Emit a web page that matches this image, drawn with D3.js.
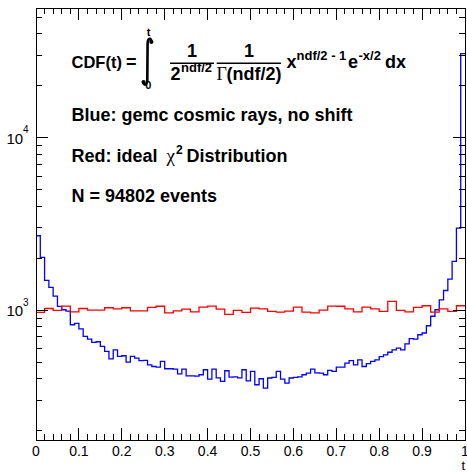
<!DOCTYPE html>
<html>
<head>
<meta charset="utf-8">
<title>CDF(t) - gemc cosmic rays vs ideal chi2</title>
<script src="https://d3js.org/d3.v7.min.js"></script>
<style>
  body { margin: 0; background: #fff; }
  svg text { font-family: "Liberation Sans", Arial, Helvetica, sans-serif; fill: #000; }
  .bold { font-weight: bold; }
  .greek { font-family: "Liberation Serif", "DejaVu Serif", serif; font-weight: normal; }
</style>
</head>
<body>
<div id="vis"></div>
<script>
const width = 467;
const height = 473;

// Blue: gemc cosmic rays, 100 bins on [0, 1]
const blueCounts = [
  2703, 2024, 1489, 1356, 1209, 1052, 1007, 989, 824, 839,
  781, 705, 681, 651, 657, 617, 577, 523, 590, 540,
  545, 501, 540, 528, 510, 512, 483, 472, 468, 505,
  458, 458, 456, 428, 456, 417, 417, 415, 423, 452,
  399, 456, 406, 387, 446, 410, 411, 406, 452, 390,
  442, 370, 401, 354, 405, 408, 442, 399, 378, 405,
  408, 411, 423, 432, 456, 434, 432, 423, 448, 442,
  468, 468, 494, 510, 483, 516, 472, 490, 505, 516,
  538, 552, 571, 590, 604, 590, 639, 684, 681, 721,
  738, 813, 923, 1007, 1150, 1302, 1517, 1918, 2996, 30700
];

// Red: ideal chi2 distribution, 50 bins on [0, 1]
const redCounts = [
  971, 1024, 999, 1058, 980, 1024, 1003, 1003, 1034, 1020,
  1034, 993, 993, 1038, 1055, 967, 991, 1016, 980, 1044,
  1058, 1016, 946, 999, 971, 1030, 1020, 984, 976, 989,
  1044, 976, 967, 1003, 1058, 1055, 1020, 980, 1044, 1020,
  984, 1125, 999, 980, 1038, 1062, 976, 1020, 984, 1062
];

const xTickValues = [0, 0.1, 0.2, 0.3, 0.4, 0.5, 0.6, 0.7, 0.8, 0.9, 1];
const xTickLabels = ["0", "0.1", "0.2", "0.3", "0.4", "0.5", "0.6", "0.7", "0.8", "0.9", "1"];
const yMajorValues = [1000, 10000];
const yMajorExponents = ["3", "4"];
const yMinorValues = [200, 300, 400, 500, 600, 700, 800, 900,
                      2000, 3000, 4000, 5000, 6000, 7000, 8000, 9000,
                      20000, 30000, 40000, 50000];

const frame = { left: 36, right: 465, top: 8, bottom: 440 };

let vis = d3.select("#vis")
  .append("svg")
  .attr("width", width)
  .attr("height", height);

vis.append("rect").attr("width", width).attr("height", height).attr("fill", "#fff");

const x = d3.scaleLinear().domain([0, 1]).range([frame.left, frame.right]);
const y = d3.scaleLog().domain([177, 56500]).range([frame.bottom, frame.top]);

// step outline of a histogram, bins evenly spread over [0, 1]
function histPath(counts) {
  const n = counts.length;
  const pts = counts.map((c, i) => [i / n, c]);
  pts.push([1, counts[n - 1]]);
  return d3.line()
    .x(d => x(d[0]))
    .y(d => y(d[1]))
    .curve(d3.curveStepAfter)(pts);
}

vis.append("path")
  .attr("d", histPath(blueCounts))
  .attr("fill", "none")
  .attr("stroke", "#0000ff")
  .attr("stroke-width", 1.3);

vis.append("path")
  .attr("d", histPath(redCounts))
  .attr("fill", "none")
  .attr("stroke", "#ff0000")
  .attr("stroke-width", 1.3);

// frame
vis.append("rect")
  .attr("x", frame.left)
  .attr("y", frame.top)
  .attr("width", frame.right - frame.left)
  .attr("height", frame.bottom - frame.top)
  .attr("fill", "none")
  .attr("stroke", "#000")
  .attr("stroke-width", 1)
  .attr("shape-rendering", "crispEdges");

// ticks (ROOT style, drawn inside the frame on all four sides)
const ticks = vis.append("g")
  .attr("stroke", "#000")
  .attr("stroke-width", 1)
  .attr("shape-rendering", "crispEdges");

const xMinor = d3.range(0, 1.0001, 0.02);
xMinor.forEach(function(v) {
  const major = Math.abs(v * 10 - Math.round(v * 10)) < 1e-6;
  const len = major ? 12 : 6;
  ticks.append("line").attr("x1", x(v)).attr("x2", x(v))
    .attr("y1", frame.bottom).attr("y2", frame.bottom - len);
  ticks.append("line").attr("x1", x(v)).attr("x2", x(v))
    .attr("y1", frame.top).attr("y2", frame.top + len);
});

function yTick(v, len) {
  ticks.append("line").attr("x1", frame.left).attr("x2", frame.left + len)
    .attr("y1", y(v)).attr("y2", y(v));
  ticks.append("line").attr("x1", frame.right).attr("x2", frame.right - len)
    .attr("y1", y(v)).attr("y2", y(v));
}
yMajorValues.forEach(v => yTick(v, 12));
yMinorValues.forEach(v => yTick(v, 6));

// x labels
vis.append("g").selectAll("text")
  .data(xTickValues)
  .enter()
  .append("text")
  .attr("x", d => x(d))
  .attr("y", 456)
  .attr("text-anchor", "middle")
  .attr("font-size", 14)
  .text((d, i) => xTickLabels[i]);

vis.append("text")
  .attr("x", frame.right)
  .attr("y", 470)
  .attr("text-anchor", "end")
  .attr("font-size", 13)
  .text("t");

// y labels 10^n
yMajorValues.forEach(function(v, i) {
  vis.append("text").attr("x", 6.5).attr("y", y(v) + 6)
    .attr("font-size", 15).text("10");
  vis.append("text").attr("x", 23).attr("y", y(v) - 4.5)
    .attr("font-size", 10).text(yMajorExponents[i]);
});

// ---- text block ----
const txt = vis.append("g").attr("class", "bold");

function label(tx, ty, s, size, cls, anchor) {
  return txt.append("text")
    .attr("x", tx).attr("y", ty)
    .attr("font-size", size)
    .attr("class", cls || "bold")
    .attr("text-anchor", anchor || "start")
    .text(s);
}

// CDF(t) = integral ...
label(71.5, 67.5, "CDF(t)", 16.5);
label(136.5, 67.5, "=", 18, "bold", "end");

// integral sign
vis.append("path")
  .attr("d", "M151.6,42 C151.6,37.8 147.8,37.4 147.6,43.5 L147.3,80 C147.1,86 143.2,85.5 143.4,82")
  .attr("fill", "none")
  .attr("stroke", "#000")
  .attr("stroke-width", 2.6);
vis.append("circle").attr("cx", 151.4).attr("cy", 42).attr("r", 2.1).attr("fill", "#000");
vis.append("circle").attr("cx", 143.5).attr("cy", 82).attr("r", 2.1).attr("fill", "#000");
label(148.5, 35.5, "t", 11, "bold", "middle");
label(148.3, 89, "0", 11, "bold", "middle");

// 1 / 2^(ndf/2)
label(192, 57, "1", 18, "bold", "middle");
vis.append("line").attr("x1", 170).attr("x2", 214).attr("y1", 63.3).attr("y2", 63.3)
  .attr("stroke", "#000").attr("stroke-width", 1.5);
label(170.5, 80, "2", 18);
label(181, 72, "ndf/2", 13);

// 1 / Gamma(ndf/2)
label(249, 57, "1", 18, "bold", "middle");
vis.append("line").attr("x1", 216.7).attr("x2", 281).attr("y1", 63.3).attr("y2", 63.3)
  .attr("stroke", "#000").attr("stroke-width", 1.5);
label(216.5, 80, "\u0393", 18, "greek");
label(281.5, 80, "(ndf/2)", 18, "bold", "end");

// x^(ndf/2 - 1) e^(-x/2) dx
label(286.5, 67.5, "x", 18);
label(296.5, 60, "ndf/2 - 1", 13);
label(348, 67.5, "e", 18);
label(358.5, 60, "-x/2", 13);
label(385, 67.5, "dx", 18);

// legend lines
label(71.5, 121, "Blue: gemc cosmic rays, no shift", 18);
label(71.5, 162, "Red: ideal", 18);
label(166.5, 162, "\u03c7", 19, "greek");
label(176, 154, "2", 12);
label(186.5, 162, "Distribution", 18);
label(71.5, 201.5, "N = 94802 events", 18);
</script>
</body>
</html>
